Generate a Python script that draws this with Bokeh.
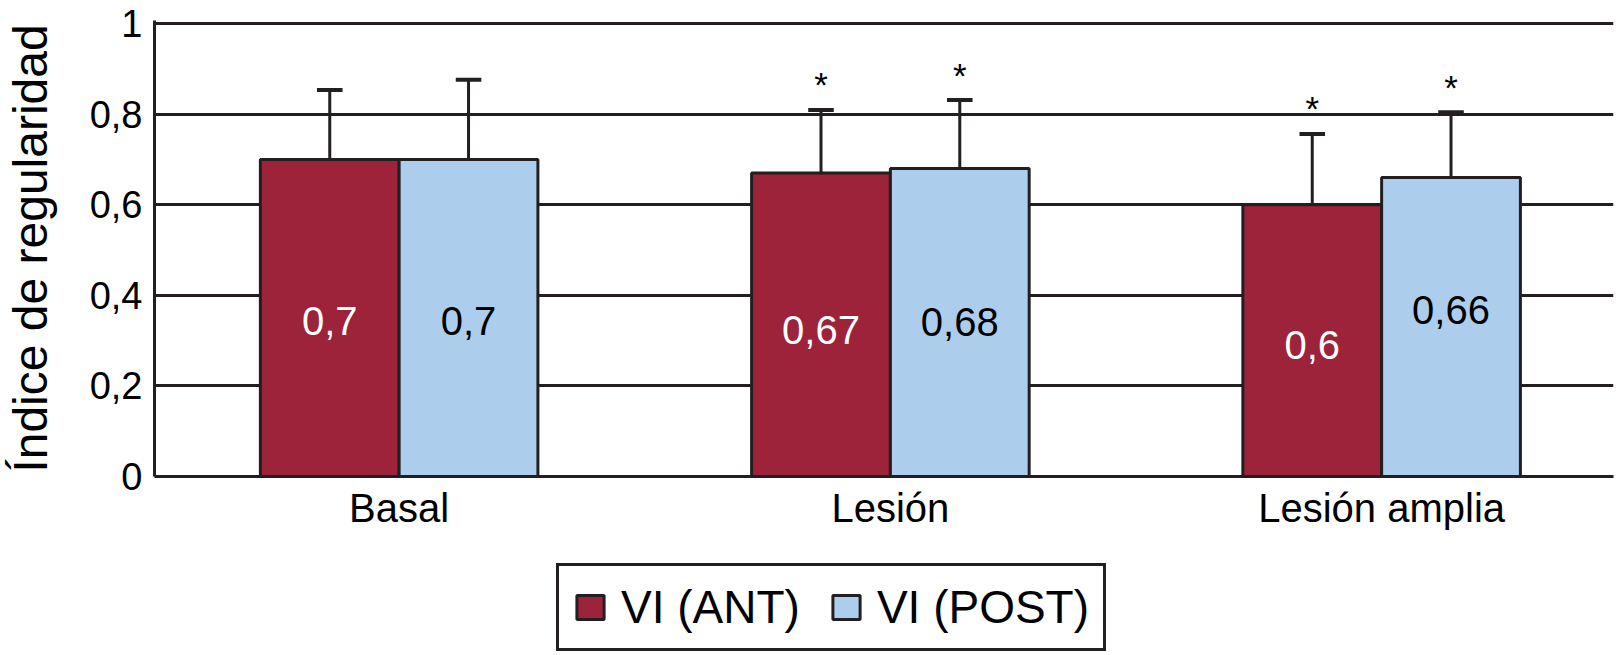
from bokeh.plotting import figure
from bokeh.layouts import column
from bokeh.models import (Range1d, FixedTicker, CustomJSTickFormatter, Legend, LegendItem)
from bokeh.core.properties import value
from bokeh.embed import file_html
from bokeh.resources import INLINE

# ---- data ----
categories = ["Basal", "Lesión", "Lesión amplia"]
series_names = ["VI (ANT)", "VI (POST)"]
ant_values = [0.70, 0.67, 0.60]
post_values = [0.70, 0.68, 0.66]
ant_err_top = [0.853, 0.809, 0.756]
post_err_top = [0.876, 0.831, 0.804]
ant_labels = ["0,7", "0,67", "0,6"]
post_labels = ["0,7", "0,68", "0,66"]
ant_label_y = [0.343, 0.324, 0.291]
post_label_y = [0.343, 0.340, 0.367]
ant_marks = ["", "*", "*"]
post_marks = ["", "*", "*"]
y_ticks = [0, 0.2, 0.4, 0.6, 0.8, 1.0]

# ---- style ----
RED = "#9C2339"
BLUE = "#ADCDEC"
INK = "#231F20"
FONT = "Liberation Sans"
BAR_W = 0.2825
OFF = BAR_W / 2
CAP = 0.026
W = 1614

idx = list(range(len(categories)))
x_ant = [i - OFF for i in idx]
x_post = [i + OFF for i in idx]

p = figure(width=W, height=545, output_backend="svg", toolbar_location=None,
           x_range=Range1d(-0.498, 2.472), y_range=Range1d(0, 1.0066),
           min_border_left=152, min_border_right=1, min_border_top=20,
           min_border_bottom=69)
p.outline_line_color = None
p.background_fill_color = "white"
p.border_fill_color = "white"

# grid
p.xgrid.visible = False
p.ygrid.ticker = FixedTicker(ticks=[t for t in y_ticks if t > 0])
p.ygrid.grid_line_color = INK
p.ygrid.grid_line_width = 3

# y axis
p.yaxis.ticker = FixedTicker(ticks=y_ticks)
p.yaxis.formatter = CustomJSTickFormatter(
    code="var s = (Math.round(tick*10)/10).toString(); return s.replace('.', ',');")
p.yaxis.major_tick_out = 0
p.yaxis.major_tick_in = 0
p.yaxis.minor_tick_out = 0
p.yaxis.minor_tick_in = 0
p.yaxis.axis_line_color = INK
p.yaxis.axis_line_width = 3
p.yaxis.major_label_text_font = FONT
p.yaxis.major_label_text_font_size = "38px"
p.yaxis.major_label_text_color = "black"
p.yaxis.major_label_standoff = 12
p.yaxis.axis_label = "Índice de regularidad"
p.yaxis.axis_label_text_font = FONT
p.yaxis.axis_label_text_font_size = "48px"
p.yaxis.axis_label_text_font_style = "normal"
p.yaxis.axis_label_text_color = "black"
p.yaxis.axis_label_standoff = 30

# x axis
p.xaxis.ticker = FixedTicker(ticks=idx)
p.xaxis.major_label_overrides = {i: c for i, c in zip(idx, categories)}
p.xaxis.major_tick_out = 0
p.xaxis.major_tick_in = 0
p.xaxis.minor_tick_out = 0
p.xaxis.minor_tick_in = 0
p.xaxis.axis_line_color = INK
p.xaxis.axis_line_width = 3
p.xaxis.major_label_text_font = FONT
p.xaxis.major_label_text_font_size = "40px"
p.xaxis.major_label_text_color = "black"
p.xaxis.major_label_standoff = 9

# error bars (vertical stems + caps)
p.segment(x0=x_ant, y0=ant_values, x1=x_ant, y1=ant_err_top, line_color=INK, line_width=3)
p.segment(x0=x_post, y0=post_values, x1=x_post, y1=post_err_top, line_color=INK, line_width=3)
p.segment(x0=[x - CAP for x in x_ant], y0=ant_err_top, x1=[x + CAP for x in x_ant],
          y1=ant_err_top, line_color=INK, line_width=4)
p.segment(x0=[x - CAP for x in x_post], y0=post_err_top, x1=[x + CAP for x in x_post],
          y1=post_err_top, line_color=INK, line_width=4)

# bars
p.vbar(x=x_ant, top=ant_values, width=BAR_W, fill_color=RED, line_color=INK, line_width=3)
p.vbar(x=x_post, top=post_values, width=BAR_W, fill_color=BLUE, line_color=INK, line_width=3)

# value labels
p.text(x=x_ant, y=ant_label_y, text=ant_labels, text_font=value(FONT),
       text_font_size="40px", text_color="white", text_align="center",
       text_baseline="middle")
p.text(x=x_post, y=post_label_y, text=post_labels, text_font=value(FONT),
       text_font_size="40px", text_color="black", text_align="center",
       text_baseline="middle")

# significance marks
p.text(x=x_ant, y=ant_err_top, text=ant_marks, text_font=value(FONT),
       text_font_size="35px", text_color="black", text_align="center",
       text_baseline="alphabetic", y_offset=-26)
p.text(x=x_post, y=post_err_top, text=post_marks, text_font=value(FONT),
       text_font_size="35px", text_color="black", text_align="center",
       text_baseline="alphabetic", y_offset=-25)

# ---- legend strip below the chart ----
# legend keys: the same bar series, as hidden renderers in the strip
lg = figure(width=W, height=110, output_backend="svg", toolbar_location=None,
            x_range=Range1d(-0.498, 2.472), y_range=Range1d(0, 1),
            x_axis_location=None, y_axis_location=None,
            min_border_left=0, min_border_right=0, min_border_top=0, min_border_bottom=0)
lg.outline_line_color = None
lg.xgrid.visible = False
lg.ygrid.visible = False
k_ant = lg.vbar(x=x_ant, top=ant_values, width=BAR_W, fill_color=RED,
                line_color=INK, line_width=3, visible=False)
k_post = lg.vbar(x=x_post, top=post_values, width=BAR_W, fill_color=BLUE,
                 line_color=INK, line_width=3, visible=False)

legend = Legend(items=[LegendItem(label=series_names[0], renderers=[k_ant], index=0),
                       LegendItem(label=series_names[1], renderers=[k_post], index=0)],
                orientation="horizontal", location=(402, 4))
legend.label_text_font = FONT
legend.label_text_font_size = "46px"
legend.label_text_color = "black"
legend.glyph_width = 34
legend.glyph_height = 30
legend.label_standoff = 14
legend.spacing = 29
legend.padding = 14
legend.margin = 0
legend.border_line_color = INK
legend.border_line_width = 3
legend.border_line_alpha = 1
legend.background_fill_color = "white"
legend.background_fill_alpha = 1
legend.inactive_fill_alpha = 0
lg.add_layout(legend, "center")

layout = column(p, lg, spacing=0)
open("out.html", "w").write(file_html(layout, INLINE))
